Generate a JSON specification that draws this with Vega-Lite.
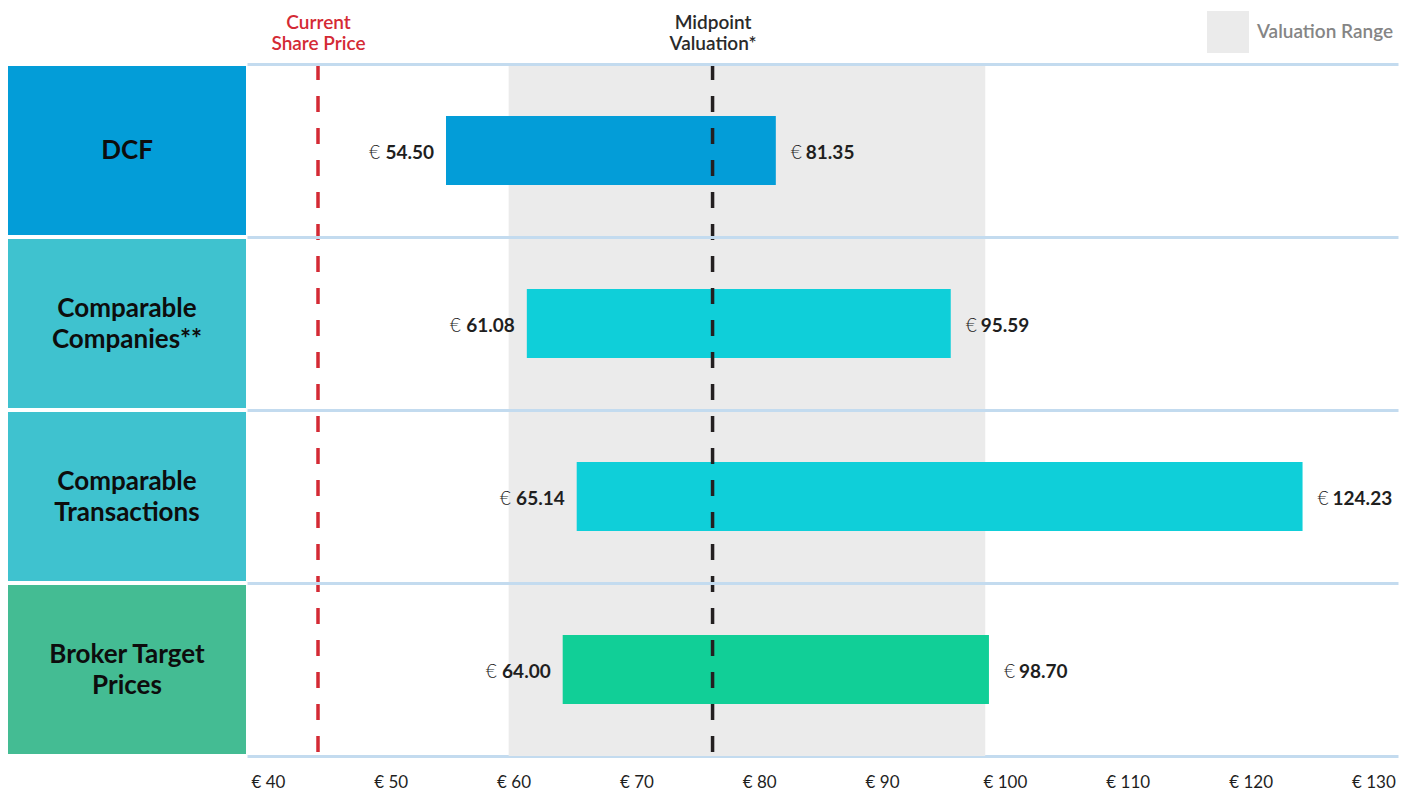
{
  "$schema": "https://vega.github.io/schema/vega-lite/v6.json",
  "padding": {"left": 8, "top": 11, "right": 10, "bottom": 0},
  "autosize": {"type": "pad"},
  "config": {"view": {"stroke": null}, "font": "Lato"},
  "datasets": {
    "methods": [
      {"method": "DCF", "label": "DCF", "low": 54.50, "high": 81.35},
      {"method": "Comparable Companies", "label": "Comparable\nCompanies**", "low": 61.08, "high": 95.59},
      {"method": "Comparable Transactions", "label": "Comparable\nTransactions", "low": 65.14, "high": 124.23},
      {"method": "Broker Target Prices", "label": "Broker Target\nPrices", "low": 64.00, "high": 98.70}
    ],
    "refs": [
      {"name": "Current Share Price", "value": 44.08},
      {"name": "Midpoint Valuation*", "value": 76.2}
    ],
    "range": [
      {"name": "Valuation Range", "low": 59.6, "high": 98.4}
    ]
  },
  "spacing": 1,
  "resolve": {"scale": {"x": "independent", "y": "independent", "color": "independent"}, "legend": {"color": "independent", "fill": "independent"}},
  "hconcat": [
    {
      "width": 238,
      "height": 692,
      "data": {"name": "methods"},
      "encoding": {
        "y": {"field": "method", "type": "nominal", "sort": null, "axis": null,
              "scale": {"domain": ["DCF", "Comparable Companies", "Comparable Transactions", "Broker Target Prices"], "paddingInner": 0.023, "paddingOuter": 0.0115}}
      },
      "layer": [
        {
          "mark": {"type": "rect"},
          "encoding": {
            "x": {"datum": 0, "type": "quantitative", "scale": {"domain": [0, 1], "nice": false}, "axis": null},
            "x2": {"datum": 1},
            "color": {"field": "method", "type": "nominal", "legend": null,
              "scale": {"domain": ["DCF", "Comparable Companies", "Comparable Transactions", "Broker Target Prices"],
                        "range": ["#039dd8", "#3fc2cf", "#3fc2cf", "#44bc93"]}}
          }
        },
        {
          "transform": [{"filter": "indexof(datum.label, '\\n') < 0"}],
          "mark": {"type": "text", "fontSize": 26, "fontWeight": "bold", "color": "#0d0d0d", "align": "center", "baseline": "middle"},
          "encoding": {
            "x": {"datum": 0.5, "type": "quantitative"},
            "text": {"field": "label"}
          }
        },
        {
          "transform": [{"filter": "indexof(datum.label, '\\n') >= 0"}],
          "mark": {"type": "text", "fontSize": 26, "fontWeight": "bold", "lineBreak": "\n", "lineHeight": 31, "dy": -15, "color": "#0d0d0d", "align": "center", "baseline": "middle"},
          "encoding": {
            "x": {"datum": 0.5, "type": "quantitative"},
            "text": {"field": "label"}
          }
        }
      ]
    },
    {
      "width": 1151,
      "height": 692,
      "resolve": {"axis": {"x": "independent"}},
      "layer": [
        {
          "data": {"name": "range"},
          "mark": {"type": "rect"},
          "encoding": {
            "x": {"field": "low", "type": "quantitative", "scale": {"domain": [38.3, 132], "nice": false, "zero": false},
                  "axis": {"orient": "bottom", "values": [40, 50, 60, 70, 80, 90, 100, 110, 120, 130], "labelExpr": "'€ ' + datum.value",
                           "title": null, "ticks": false, "grid": false, "domain": true, "domainColor": "#c3dbef", "domainWidth": 3,
                           "labelFontSize": 17, "labelColor": "#1f1f1f", "labelPadding": 18}},
            "x2": {"field": "high"},
            "fill": {"field": "name", "type": "nominal",
              "scale": {"range": ["#ebebeb"]},
              "legend": {"orient": "none", "legendX": 960, "legendY": -53, "title": null, "symbolType": "square",
                         "symbolSize": 1764, "symbolStrokeWidth": 0, "labelFontSize": 19, "labelColor": "#858585",
                         "labelFontWeight": 600, "labelOffset": 8, "padding": 0}}
          }
        },
        {
          "data": {"name": "methods"},
          "mark": {"type": "bar", "height": {"band": 0.4}},
          "encoding": {
            "y": {"field": "method", "type": "nominal", "sort": null,
                  "scale": {"paddingInner": 0, "paddingOuter": 0},
                  "axis": {"grid": true, "bandPosition": 0, "gridColor": "#c3dbef", "gridWidth": 3, "labels": false,
                           "ticks": false, "domain": false, "title": null, "zindex": 1}},
            "x": {"field": "low", "type": "quantitative", "axis": null},
            "x2": {"field": "high"},
            "color": {"field": "method", "type": "nominal", "legend": null,
              "scale": {"domain": ["DCF", "Comparable Companies", "Comparable Transactions", "Broker Target Prices"],
                        "range": ["#039dd8", "#0fcfd9", "#0fcfd9", "#11cf97"]}}
          }
        },
        {
          "data": {"name": "refs"},
          "mark": {"type": "rule", "strokeDash": [16, 16], "strokeWidth": 3.5},
          "encoding": {
            "x": {"field": "value", "type": "quantitative",
                  "axis": {"orient": "top", "values": [44.08, 76.2], "title": null, "ticks": false, "domain": false, "grid": false,
                           "labelExpr": "datum.value < 60 ? ['Current', 'Share Price'] : ['Midpoint', 'Valuation*']",
                           "labelFontSize": 19, "labelFontWeight": 600, "labelLineHeight": 21, "labelPadding": 32,
                           "labelColor": {"condition": {"test": "datum.value < 60", "value": "#d42a34"}, "value": "#2a2a2a"}}},
            "stroke": {"field": "name", "type": "nominal", "legend": null,
              "scale": {"domain": ["Current Share Price", "Midpoint Valuation*"], "range": ["#d42a34", "#231f20"]}}
          }
        },
        {
          "data": {"name": "methods"},
          "mark": {"type": "text", "align": "right", "baseline": "middle", "dx": -12, "dy": 2, "fontSize": 19, "fontWeight": "bold", "color": "#1f1f1f"},
          "encoding": {
            "y": {"field": "method", "type": "nominal", "sort": null},
            "x": {"field": "low", "type": "quantitative", "axis": null},
            "text": {"field": "low", "type": "quantitative", "format": ".2f"}
          }
        },
        {
          "data": {"name": "methods"},
          "mark": {"type": "text", "align": "right", "baseline": "middle", "dx": -66, "dy": 2, "fontSize": 19, "fontWeight": 300, "color": "#1f1f1f"},
          "encoding": {
            "y": {"field": "method", "type": "nominal", "sort": null},
            "x": {"field": "low", "type": "quantitative", "axis": null},
            "text": {"value": "€"}
          }
        },
        {
          "data": {"name": "methods"},
          "mark": {"type": "text", "align": "left", "baseline": "middle", "dx": 15, "dy": 2, "fontSize": 19, "fontWeight": 300, "color": "#1f1f1f"},
          "encoding": {
            "y": {"field": "method", "type": "nominal", "sort": null},
            "x": {"field": "high", "type": "quantitative", "axis": null},
            "text": {"value": "€"}
          }
        },
        {
          "data": {"name": "methods"},
          "mark": {"type": "text", "align": "left", "baseline": "middle", "dx": 30, "dy": 2, "fontSize": 19, "fontWeight": "bold", "color": "#1f1f1f"},
          "encoding": {
            "y": {"field": "method", "type": "nominal", "sort": null},
            "x": {"field": "high", "type": "quantitative", "axis": null},
            "text": {"field": "high", "type": "quantitative", "format": ".2f"}
          }
        }
      ]
    }
  ]
}
